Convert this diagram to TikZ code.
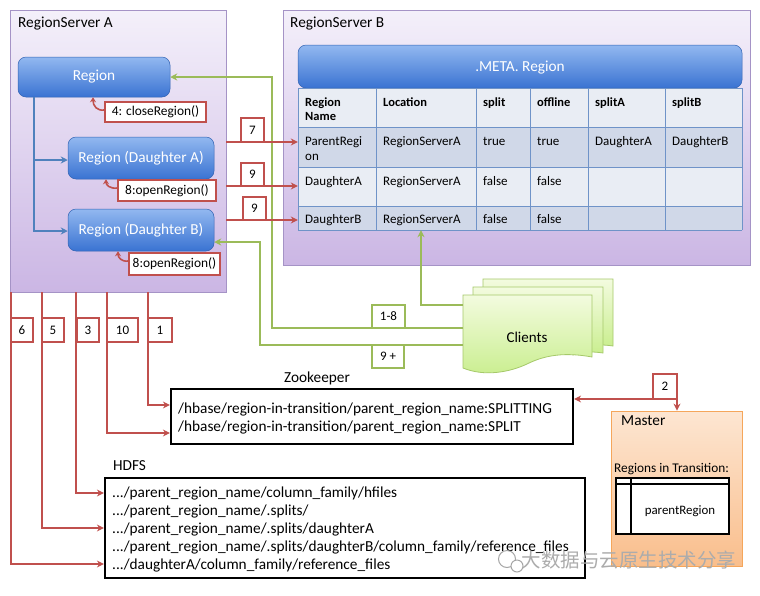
\documentclass[tikz,border=0pt]{standalone}
\usepackage{fontspec}
\setmainfont{Carlito}
\newfontfamily\cjkfont{Noto Sans CJK SC}
\usetikzlibrary{arrows.meta}
\definecolor{myred}{HTML}{C0504D}
\definecolor{mygreen}{HTML}{9BBB59}
\definecolor{myblue}{HTML}{4F81BD}
\definecolor{purpTop}{HTML}{F4F0FA}
\definecolor{purpBot}{HTML}{CBB6E4}
\definecolor{purpLine}{HTML}{A593C6}
\definecolor{boxTop}{HTML}{92B8F0}
\definecolor{boxBot}{HTML}{3A73D2}
\definecolor{rowDark}{HTML}{D0D8E8}
\definecolor{rowLight}{HTML}{E9EDF4}
\definecolor{tabLine}{HTML}{6F93C8}
\definecolor{orTop}{HTML}{FDE6D2}
\definecolor{orBot}{HTML}{F9BE8C}
\definecolor{orLine}{HTML}{F5A65B}
\definecolor{grTop}{HTML}{F3FBDF}
\definecolor{grBot}{HTML}{C9EE8E}
\definecolor{grLine}{HTML}{A6C96A}
\tikzset{
  server/.style={draw=purpLine, line width=0.8pt, top color=purpTop, bottom color=purpBot, inner sep=0pt},
  regbox/.style={draw=boxBot!85!black, line width=0.5pt, rounded corners=8pt, top color=boxTop, bottom color=boxBot, text=white, font=\fontsize{15.3}{17}\selectfont, inner sep=0pt},
  callbox/.style={draw=myred, line width=1.4pt, fill=white, font=\fontsize{13.4}{15}\selectfont, inner sep=0pt},
  numbox/.style={draw=myred, line width=1.4pt, fill=white, font=\fontsize{13}{15}\selectfont, inner sep=0pt},
  gnumbox/.style={draw=mygreen, line width=1.6pt, fill=white, font=\fontsize{13}{15}\selectfont, inner sep=0pt},
  redarrow/.style={draw=myred, line width=1.6pt, -{Stealth[length=7pt,width=7pt]}},
  redboth/.style={draw=myred, line width=1.6pt, {Stealth[length=7pt,width=7pt]}-{Stealth[length=7pt,width=7pt]}},
  curl/.style={draw=myred, line width=1.6pt, -{Stealth[length=5pt,width=6pt]}},
  greenarrow/.style={draw=mygreen, line width=1.8pt, -{Stealth[length=7pt,width=7pt]}},
  bluearrow/.style={draw=myblue, line width=1.8pt, -{Stealth[length=7pt,width=7pt]}},
  store/.style={draw=black, line width=2.2pt, fill=white, inner sep=0pt},
  cell/.style={anchor=base west, inner sep=0pt, font=\fontsize{13}{15}\selectfont},
  hcell/.style={anchor=base west, inner sep=0pt, font=\fontsize{12.5}{15}\selectfont\bfseries},
  pathtext/.style={anchor=west, inner sep=0pt, font=\fontsize{15.3}{17}\selectfont},
  lbl/.style={anchor=west, inner sep=0pt, font=\fontsize{15.3}{17}\selectfont},
  doc/.style={draw=grLine, line width=0.8pt, top color=grTop, bottom color=grBot},
}
\begin{document}
\begin{tikzpicture}[x=1pt,y=-1pt]
\useasboundingbox[fill=white] (0,0) rectangle (760,595);

% ---------- RegionServer A ----------
\node[server, minimum width=216pt, minimum height=282pt] (rsA) at (118,151) {};
\node[lbl] (rsAl) at (18,24) {RegionServer A};

% ---------- RegionServer B ----------
\node[server, minimum width=467pt, minimum height=255pt] (rsB) at (516.5,137.5) {};
\node[lbl] (rsBl) at (290,24) {RegionServer B};

% META header
\node[regbox, minimum width=444pt, minimum height=43pt] (meta) at (520,66.5) {};
\node[text=white, font=\fontsize{15.3}{17}\selectfont] (metal) at (520,68) {.META. Region};

% table
\node[inner sep=0pt, minimum width=444pt, minimum height=142pt] (metatab) at (520,159) {};
\fill[rowLight] (298,88) rectangle (742,127);
\fill[rowDark] (298,127) rectangle (742,167);
\fill[rowLight] (298,167) rectangle (742,206);
\fill[rowDark] (298,206) rectangle (742,230);
\foreach \x in {298,376,476,530,588,665,742} \draw[tabLine, line width=0.8pt] (\x,88) -- (\x,230);
\foreach \y in {88,127,167,206,230} \draw[tabLine, line width=0.8pt] (298,\y) -- (742,\y);

\node[hcell] (h1a) at (305,106) {Region};
\node[hcell] (h1b) at (305,120.5) {Name};
\node[hcell] (h2) at (383,106) {Location};
\node[hcell] (h3) at (483,106) {split};
\node[hcell] (h4) at (537,106) {offline};
\node[hcell] (h5) at (595,106) {splitA};
\node[hcell] (h6) at (672,106) {splitB};

\node[cell] (r1a) at (305,145.5) {ParentRegi};
\node[cell] (r1b) at (305,160.5) {on};
\node[cell] (r12) at (383,145.5) {RegionServerA};
\node[cell] (r13) at (483,145.5) {true};
\node[cell] (r14) at (537,145.5) {true};
\node[cell] (r15) at (595,145.5) {DaughterA};
\node[cell] (r16) at (672,145.5) {DaughterB};

\node[cell] (r21) at (305,185.5) {DaughterA};
\node[cell] (r22) at (383,185.5) {RegionServerA};
\node[cell] (r23) at (483,185.5) {false};
\node[cell] (r24) at (537,185.5) {false};

\node[cell] (r31) at (305,223.5) {DaughterB};
\node[cell] (r32) at (383,223.5) {RegionServerA};
\node[cell] (r33) at (483,223.5) {false};
\node[cell] (r34) at (537,223.5) {false};

% ---------- Regions in A ----------
\node[regbox, minimum width=152pt, minimum height=40pt] (region) at (94,77) {Region};
\node[regbox, minimum width=146pt, minimum height=42pt] (dA) at (141,158) {Region (Daughter A)};
\node[regbox, minimum width=146pt, minimum height=42pt] (dB) at (141,230) {Region (Daughter B)};

\draw[bluearrow] (region.south -| 34,0) |- (dA.west |- 0,160);
\draw[bluearrow] (region.south -| 34,0) |- (dB.west |- 0,231);

\node[callbox, minimum width=101pt, minimum height=20pt] (close) at (155.5,112) {4: closeRegion()};
\node[callbox, minimum width=98pt, minimum height=21pt] (openA) at (167,190.5) {8:openRegion()};
\node[callbox, minimum width=91pt, minimum height=22pt] (openB) at (174.5,264) {8:openRegion()};

\draw[curl] (close.west |- 0,110) .. controls (97,111) and (93,106) .. (region.south -| 93,0);
\draw[curl] (openA.west |- 0,188) .. controls (110,189) and (106,185) .. (dA.south -| 106,0);
\draw[curl] (openB.west |- 0,261) .. controls (121,262) and (118,257) .. (dB.south -| 118,0);

% ---------- Clients ----------
\path[doc] (483,279) -- (613,279) -- (613,346) .. controls (600,344) and (590,345) .. (583,348) -- (583,340) -- (483,340) -- cycle;
\path[doc] (473,287) -- (603,287) -- (603,353) .. controls (590,351) and (580,352) .. (573,355) -- (573,348) -- (473,348) -- cycle;
\path[doc] (463,295) -- (592,295) -- (592,357) .. controls (565,352) and (545,355) .. (527,364) .. controls (510,372) and (485,377) .. (463,368) -- cycle;
\node[font=\fontsize{15}{17}\selectfont] (clients) at (527,337) {Clients};
\coordinate (cl18) at (463,328);
\coordinate (cl9) at (463,345);
\coordinate (cltop) at (463,305);

% green connectors
\draw[greenarrow] (cl18) -| (272,77) -- (region.east);
\draw[greenarrow] (cl9) -| (260,242) -- (dB.east |- 0,242);
\draw[greenarrow] (cltop) -| (metatab.south -| 421,0);
\node[gnumbox, minimum width=33pt, minimum height=23pt] (g18) at (388.5,316.5) {1-8};
\node[gnumbox, minimum width=32pt, minimum height=23pt] (g9) at (388,356.5) {9 +};

% red connectors to META
\draw[redarrow] (rsA.east |- 0,142) -- (metatab.west |- 0,142);
\draw[redarrow] (rsA.east |- 0,186) -- (metatab.west |- 0,186);
\draw[redarrow] (rsA.east |- 0,220) -- (metatab.west |- 0,220);
\node[numbox, minimum width=23pt, minimum height=24pt] (n7) at (252.5,130) {7};
\node[numbox, minimum width=23pt, minimum height=23pt] (n9a) at (252.5,174.5) {9};
\node[numbox, minimum width=23pt, minimum height=23pt] (n9b) at (254.5,208.5) {9};

% ---------- Zookeeper ----------
\node[font=\fontsize{15.3}{17}\selectfont] (zkl) at (317,378) {Zookeeper};
\node[store, minimum width=402pt, minimum height=55pt] (zk) at (372,416.5) {};
\node[pathtext] (zk1) at (178,409) {/hbase/region-in-transition/parent\_region\_name:SPLITTING};
\node[pathtext] (zk2) at (178,427) {/hbase/region-in-transition/parent\_region\_name:SPLIT};

% ---------- HDFS ----------
\node[lbl] (hdfsl) at (113,466) {HDFS};
\node[store, minimum width=480pt, minimum height=100pt] (hdfs) at (345,528) {};
\node[pathtext] (p1) at (112,493) {.../parent\_region\_name/column\_family/hfiles};
\node[pathtext] (p2) at (112,511) {.../parent\_region\_name/.splits/};
\node[pathtext] (p3) at (112,529) {.../parent\_region\_name/.splits/daughterA};
\node[pathtext] (p4) at (112,547) {.../parent\_region\_name/.splits/daughterB/column\_family/reference\_files};
\node[pathtext] (p5) at (112,565) {.../daughterA/column\_family/reference\_files};

% ---------- Master ----------
\node[draw=orLine, line width=0.8pt, top color=orTop, bottom color=orBot, inner sep=0pt, minimum width=131pt, minimum height=155pt] (master) at (676.5,488.5) {};
\node[lbl] (masterl) at (621,421) {Master};
\node[anchor=west, inner sep=0pt, font=\fontsize{13.3}{15}\selectfont] (ritl) at (614,469) {Regions in Transition:};
\node[draw=black, line width=2pt, fill=white, inner sep=0pt, minimum width=113pt, minimum height=56pt] (rit) at (672.5,506) {};
\draw[line width=2pt] (rit.north west |- 0,484) -- (rit.north east |- 0,484);
\draw[line width=2pt] (rit.north -| 631,0) -- (rit.south -| 631,0);
\node[font=\fontsize{12.9}{15}\selectfont] (pr) at (680,511) {parentRegion};

% ---------- red connectors to ZK / HDFS ----------
\draw[redarrow] (rsA.south -| 148,0) |- (zk.west |- 0,405);
\draw[redarrow] (rsA.south -| 107,0) |- (zk.west |- 0,433);
\draw[redarrow] (rsA.south -| 76,0) |- (hdfs.west |- 0,493);
\draw[redarrow] (rsA.south -| 42,0) |- (hdfs.west |- 0,528);
\draw[redarrow] (rsA.south -| 11,0) |- (hdfs.west |- 0,564);
\node[numbox, minimum width=22pt, minimum height=24pt] (n6) at (22,330) {6};
\node[numbox, minimum width=22pt, minimum height=24pt] (n5) at (53,330) {5};
\node[numbox, minimum width=22pt, minimum height=24pt] (n3) at (88,330) {3};
\node[numbox, minimum width=31pt, minimum height=24pt] (n10) at (122.5,330) {10};
\node[numbox, minimum width=24pt, minimum height=24pt] (n1) at (160,330) {1};

\draw[redboth] (zk.east |- 0,399) -| (master.north -| 677,0);
\node[numbox, minimum width=24pt, minimum height=25pt] (n2) at (665,386.5) {2};

% ---------- watermark ----------
\draw[gray!70, line width=1pt] (507,559) circle (8.5pt);
\draw[gray!70, line width=1pt, fill=white] (517,566) circle (6pt);
\node[font=\cjkfont\fontsize{19.5}{21}\selectfont, text=gray!65] (wm) at (629,560) {大数据与云原生技术分享};
\end{tikzpicture}
\end{document}
